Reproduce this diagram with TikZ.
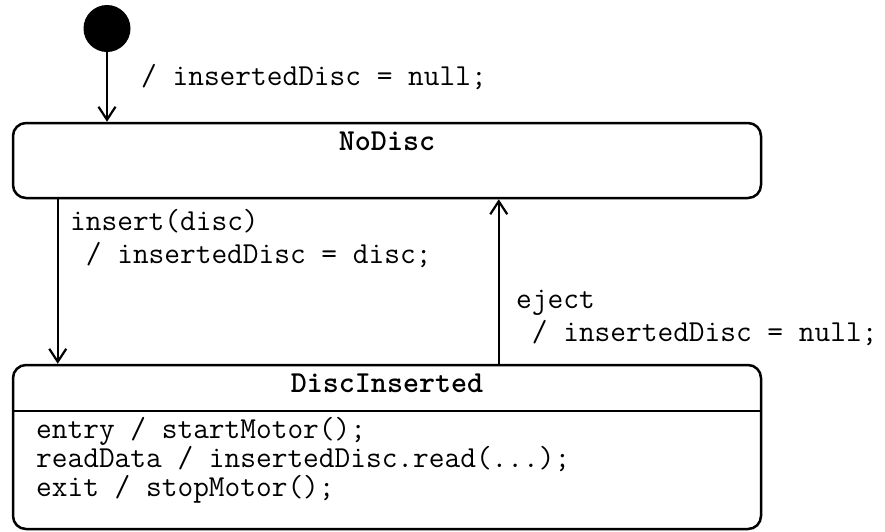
\documentclass[tikz,border=0pt]{standalone}
\usepackage{fontspec}
\usetikzlibrary{arrows.meta}
\begin{document}
\begin{tikzpicture}[x=1pt,y=-1pt,
  every node/.style={font=\ttfamily\fontsize{30.5}{33}\selectfont, inner sep=0pt},
  state/.style={draw, line width=2.5pt, rounded corners=13pt, minimum width=748pt},
  title/.style={font=\ttfamily\bfseries\fontsize{30.5}{33}\selectfont, anchor=base},
  trans/.style={line width=2.2pt, -{Straight Barb[length=13pt,width=17pt,line width=2.2pt]}},
  lbl/.style={anchor=north west, align=left},
]
\useasboundingbox (0,0) rectangle (885,531);

% initial pseudo-state
\node[circle, fill=black, minimum size=47pt] (init) at (107,28.5) {};

% state NoDisc
\node[state, minimum height=75pt] (nodisc) at (387,160.5) {};
\node[title] (nodisc-name) at (387,150) {NoDisc};

% state DiscInserted with its internal activities compartment
\node[state, minimum height=164pt] (discins) at (387,447) {};
\node[title] (discins-name) at (387,392) {DiscInserted};
\coordinate (sep) at (0,411);
\draw[line width=2.5pt] (discins.west |- sep) -- (discins.east |- sep);
\node[lbl, font=\ttfamily\fontsize{30.5}{29}\selectfont] (discins-acts) at (36,412)
  {\rule{0pt}{26pt}entry / startMotor();\\readData / insertedDisc.read(...);\\exit / stopMotor();};

% transitions
\draw[trans] (init) -- (init |- nodisc.north);
\draw[trans] ([xshift=46pt]nodisc.south west) -- ([xshift=46pt]discins.north west);
\draw[trans] ([xshift=487pt]discins.north west) -- ([xshift=487pt]nodisc.south west);

% transition labels
\node[anchor=base west] (init-lbl) at (141,85) {/ insertedDisc = null;};
\node[lbl] (insert-lbl) at (70,204)
  {\rule{0pt}{26pt}insert(disc)\\~/ insertedDisc = disc;};
\node[lbl] (eject-lbl) at (516,282)
  {\rule{0pt}{26pt}eject\\~/ insertedDisc = null;};
\end{tikzpicture}
\end{document}
